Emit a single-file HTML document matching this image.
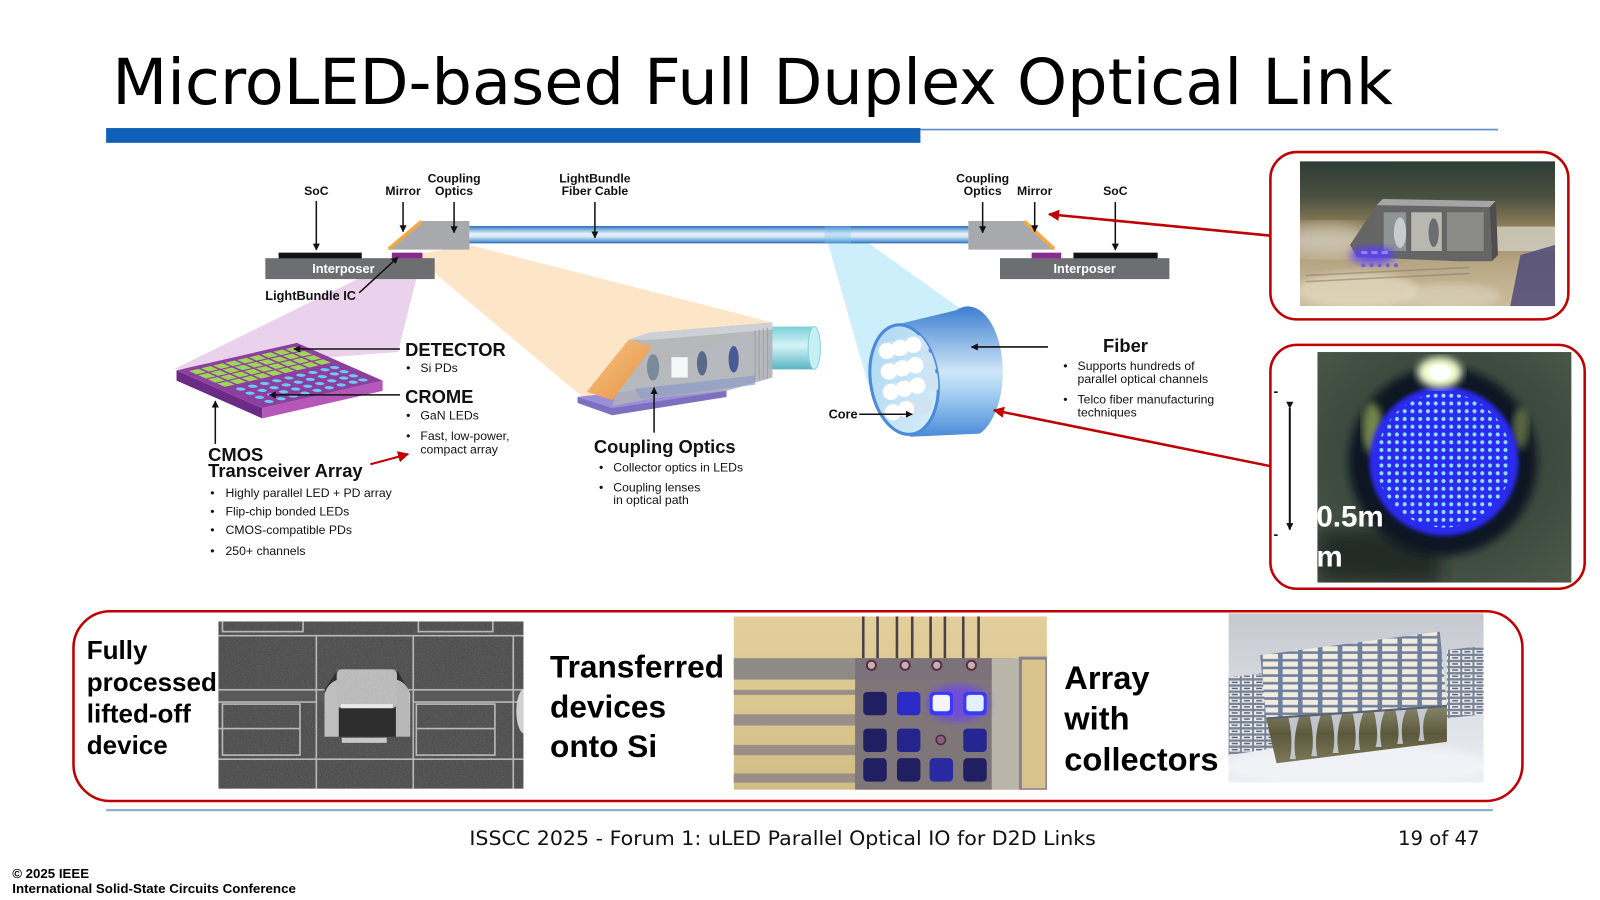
<!DOCTYPE html>
<html><head><meta charset="utf-8">
<style>html,body{margin:0;padding:0;background:#fff;overflow:hidden}svg{display:block}</style>
</head><body>
<svg xmlns="http://www.w3.org/2000/svg" xmlns:xlink="http://www.w3.org/1999/xlink" width="1600" height="900" viewBox="0 0 1568 882" font-family="'Liberation Sans', Arial, sans-serif">
<defs>
  <marker id="ab" viewBox="0 0 10 10" refX="9" refY="5" markerWidth="7" markerHeight="7" markerUnits="userSpaceOnUse" orient="auto"><path d="M0,0L10,5L0,10z" fill="#111"/></marker>
  <marker id="ar" viewBox="0 0 10 10" refX="9" refY="5" markerWidth="11" markerHeight="11" markerUnits="userSpaceOnUse" orient="auto"><path d="M0,0L10,5L0,10z" fill="#c00000"/></marker>
  <linearGradient id="fib" x1="0" y1="0" x2="0" y2="1">
    <stop offset="0" stop-color="#2a6ab5"/><stop offset="0.2" stop-color="#7fb0df"/><stop offset="0.45" stop-color="#eaf4fc"/><stop offset="0.62" stop-color="#d2e7f7"/><stop offset="0.85" stop-color="#6fa5dc"/><stop offset="1" stop-color="#2a6ab5"/>
  </linearGradient>
  <linearGradient id="body" x1="0" y1="0" x2="0" y2="1">
    <stop offset="0" stop-color="#3d7fd0"/><stop offset="0.5" stop-color="#cfe6f8"/><stop offset="0.7" stop-color="#9ccaf0"/><stop offset="1" stop-color="#4a8ad8"/>
  </linearGradient>
  <linearGradient id="face" x1="0" y1="0" x2="1" y2="1">
    <stop offset="0" stop-color="#a9d6f2"/><stop offset="1" stop-color="#d9effa"/>
  </linearGradient>
  <linearGradient id="cyl" x1="0" y1="0" x2="0" y2="1">
    <stop offset="0" stop-color="#7ccfd9"/><stop offset="0.45" stop-color="#d4f4f7"/><stop offset="1" stop-color="#5ab4c4"/>
  </linearGradient>
  <linearGradient id="orng" x1="0" y1="0" x2="1" y2="1">
    <stop offset="0" stop-color="#f6c48a"/><stop offset="1" stop-color="#e8923e"/>
  </linearGradient>
  <linearGradient id="p1bg" x1="0" y1="0" x2="0" y2="1">
    <stop offset="0" stop-color="#2e3d35"/><stop offset="0.25" stop-color="#4a5040"/><stop offset="0.45" stop-color="#8f7f58"/><stop offset="0.7" stop-color="#b7a684"/><stop offset="1" stop-color="#cbbd9c"/>
  </linearGradient>
  <radialGradient id="p2bg" cx="0.5" cy="0.45" r="0.75">
    <stop offset="0" stop-color="#2a3530"/><stop offset="0.6" stop-color="#3e4c40"/><stop offset="1" stop-color="#4d5a4a"/>
  </radialGradient>
  <linearGradient id="p3bg" x1="0" y1="0" x2="0" y2="1">
    <stop offset="0" stop-color="#e3cf9c"/><stop offset="1" stop-color="#d2bd84"/>
  </linearGradient>
  <linearGradient id="p4bg" x1="0" y1="0" x2="0" y2="1">
    <stop offset="0" stop-color="#c5c9cf"/><stop offset="0.6" stop-color="#dde0e6"/><stop offset="1" stop-color="#eceef2"/>
  </linearGradient>
  <linearGradient id="olive" x1="0" y1="0" x2="0" y2="1">
    <stop offset="0" stop-color="#8a8a70"/><stop offset="0.5" stop-color="#5c583c"/><stop offset="1" stop-color="#7c7858"/>
  </linearGradient>
  <pattern id="dots" patternUnits="userSpaceOnUse" width="7.6" height="7.6" x="1350" y="384">
    <circle cx="3.8" cy="3.8" r="2" fill="#8fe2ff"/>
  </pattern>
  <pattern id="cells" patternUnits="userSpaceOnUse" width="19.5" height="7.5" x="1235" y="617">
    <rect width="19.5" height="7.5" fill="#6f7fa0"/>
    <rect x="2.5" y="1.3" width="15" height="5" fill="#f1ecdc"/>
  </pattern>
  <pattern id="wing" patternUnits="userSpaceOnUse" width="12" height="6" x="1204" y="660">
    <rect width="12" height="6" fill="#7b8496"/>
    <rect x="1" y="1" width="10" height="3.6" fill="#eef0f2"/>
    <rect x="3" y="2" width="6" height="1.4" fill="#55606e"/>
  </pattern>
  <filter id="noise" x="0" y="0" width="1" height="1">
    <feTurbulence type="fractalNoise" baseFrequency="0.8" numOctaves="2" seed="3"/>
    <feColorMatrix type="saturate" values="0"/>
  </filter>
  <filter id="b2"><feGaussianBlur stdDeviation="2"/></filter>
  <filter id="b4"><feGaussianBlur stdDeviation="4"/></filter>
  <filter id="b8"><feGaussianBlur stdDeviation="8"/></filter>
  <clipPath id="c1"><rect x="1274" y="158" width="250" height="142"/></clipPath>
  <clipPath id="c2"><rect x="1291" y="345" width="249" height="226"/></clipPath>
  <clipPath id="c3"><rect x="214" y="609" width="299" height="164"/></clipPath>
  <clipPath id="c4"><rect x="719" y="604" width="307" height="170"/></clipPath>
  <clipPath id="c5"><rect x="1204" y="601" width="250" height="166"/></clipPath>
  <clipPath id="cface"><ellipse cx="886" cy="372" rx="33" ry="54" transform="rotate(-8 886 372)"/></clipPath>
  <g id="grow" fill="#9fd35a">
    <rect x="0.06" y="0" width="0.08" height="0.09"/><rect x="0.16" y="0" width="0.08" height="0.09"/><rect x="0.26" y="0" width="0.08" height="0.09"/><rect x="0.36" y="0" width="0.08" height="0.09"/><rect x="0.46" y="0" width="0.08" height="0.09"/><rect x="0.56" y="0" width="0.08" height="0.09"/><rect x="0.66" y="0" width="0.08" height="0.09"/><rect x="0.76" y="0" width="0.08" height="0.09"/><rect x="0.86" y="0" width="0.08" height="0.09"/>
  </g>
  <g id="brow" fill="#6cc8f4">
    <ellipse cx="0.12" cy="0" rx="0.03" ry="0.035"/><ellipse cx="0.22" cy="0" rx="0.03" ry="0.035"/><ellipse cx="0.32" cy="0" rx="0.03" ry="0.035"/><ellipse cx="0.42" cy="0" rx="0.03" ry="0.035"/><ellipse cx="0.52" cy="0" rx="0.03" ry="0.035"/><ellipse cx="0.62" cy="0" rx="0.03" ry="0.035"/><ellipse cx="0.72" cy="0" rx="0.03" ry="0.035"/><ellipse cx="0.82" cy="0" rx="0.03" ry="0.035"/><ellipse cx="0.9" cy="0" rx="0.03" ry="0.035"/>
  </g>
</defs>

<rect width="1568" height="882" fill="#fff"/>

<!-- Title -->
<text x="110" y="102" font-family="'DejaVu Sans', Verdana, sans-serif" font-size="62" textLength="1255" lengthAdjust="spacingAndGlyphs" fill="#000">MicroLED-based Full Duplex Optical Link</text>
<rect x="104" y="125.5" width="798" height="14.5" fill="#1060b8"/>
<line x1="902" y1="127" x2="1468" y2="127" stroke="#5b8ec4" stroke-width="1.6"/>

<!-- Cones -->
<polygon points="392,253 413,253 390,345 170,362" fill="#ead2ec"/>
<polygon points="405,250 460,240 757,316 572,390" fill="#fde5c8"/>
<polygon points="808,226 834,226 946,306 878,318 851,378" fill="#cdeefb"/>

<!-- Left assembly -->
<rect x="260" y="253" width="166" height="20.5" fill="#6d6e71"/>
<text x="336.5" y="267.5" font-size="12.5" font-weight="bold" fill="#fff" text-anchor="middle">Interposer</text>
<rect x="273" y="247.6" width="81.5" height="5.6" fill="#111"/>
<rect x="384" y="247.6" width="30" height="5.6" fill="#8a2a8e"/>
<polygon points="380,244.6 413,216.6 460,216.6 460,244.6" fill="#a7a9ac"/>
<line x1="381" y1="244" x2="413" y2="217" stroke="#f4a742" stroke-width="3.5"/>

<!-- Fiber -->
<rect x="460" y="221.5" width="489" height="17" fill="url(#fib)"/>
<rect x="808" y="221.5" width="26" height="17" fill="#7fc6ea" opacity="0.35"/>

<!-- Right assembly -->
<rect x="980" y="253" width="166" height="20.5" fill="#6d6e71"/>
<text x="1063" y="267.5" font-size="12.5" font-weight="bold" fill="#fff" text-anchor="middle">Interposer</text>
<rect x="1052" y="247.6" width="82.5" height="5.6" fill="#111"/>
<rect x="1011" y="247.6" width="29" height="5.6" fill="#8a2a8e"/>
<polygon points="949,216.6 1004,216.6 1034,244.6 949,244.6" fill="#a7a9ac"/>
<line x1="1004" y1="217" x2="1033" y2="244" stroke="#f4a742" stroke-width="3.5"/>

<!-- Top labels -->
<g font-size="12" font-weight="bold" fill="#111" text-anchor="middle">
  <text x="310" y="191">SoC</text>
  <text x="395" y="191">Mirror</text>
  <text x="445" y="179">Coupling</text><text x="445" y="191">Optics</text>
  <text x="583" y="179">LightBundle</text><text x="583" y="191">Fiber Cable</text>
  <text x="963" y="179">Coupling</text><text x="963" y="191">Optics</text>
  <text x="1014" y="191">Mirror</text>
  <text x="1093" y="191">SoC</text>
</g>
<text x="260" y="294" font-size="12.5" font-weight="bold" fill="#111">LightBundle IC</text>

<g stroke="#111" stroke-width="1.5" fill="none" marker-end="url(#ab)">
  <line x1="310" y1="197" x2="310" y2="245"/>
  <line x1="395" y1="198" x2="395" y2="227"/>
  <line x1="445" y1="198" x2="445" y2="228"/>
  <line x1="583" y1="198" x2="583" y2="233"/>
  <line x1="963" y1="198" x2="963" y2="228"/>
  <line x1="1014" y1="198" x2="1014" y2="227"/>
  <line x1="1093" y1="198" x2="1093" y2="245"/>
  <line x1="352" y1="287" x2="390" y2="252"/>
</g>

<!-- Chip -->
<polygon points="173,363 257,400 257,410 173,373" fill="#6b2a86"/>
<polygon points="257,400 375,373 375,383 257,410" fill="#b457b8"/>
<g transform="matrix(118,-27,84,37,173,363)">
  <rect x="0" y="0" width="1" height="1" fill="#8d3f9f"/>
  <use xlink:href="#grow" y="0.06"/>
  <use xlink:href="#grow" y="0.17"/>
  <use xlink:href="#grow" y="0.28"/>
  <use xlink:href="#grow" y="0.39"/>
  <use xlink:href="#brow" y="0.58"/>
  <use xlink:href="#brow" y="0.69"/>
  <use xlink:href="#brow" y="0.80"/>
  <use xlink:href="#brow" y="0.91"/>
</g>

<g stroke="#111" stroke-width="1.5" fill="none" marker-end="url(#ab)">
  <line x1="392" y1="342" x2="288" y2="342"/>
  <line x1="392" y1="387" x2="264" y2="387"/>
  <line x1="211" y1="435" x2="211" y2="393"/>
</g>
<line x1="363" y1="455" x2="400" y2="445" stroke="#c00000" stroke-width="2" marker-end="url(#ar)"/>

<g fill="#111">
  <text x="397" y="349" font-size="18" font-weight="bold">DETECTOR</text>
  <text x="397" y="395" font-size="18" font-weight="bold">CROME</text>
  <text x="204" y="452" font-size="18" font-weight="bold">CMOS</text>
  <text x="204" y="467.5" font-size="18" font-weight="bold">Transceiver Array</text>
  <g font-size="12">
    <text x="398" y="364.5">•</text><text x="412" y="364.5">Si PDs</text>
    <text x="398" y="411">•</text><text x="412" y="411">GaN LEDs</text>
    <text x="398" y="431">•</text><text x="412" y="431">Fast, low-power,</text>
    <text x="412" y="444.5">compact array</text>
    <text x="206" y="487">•</text><text x="221" y="487">Highly parallel LED + PD array</text>
    <text x="206" y="505">•</text><text x="221" y="505">Flip-chip bonded LEDs</text>
    <text x="206" y="523.5">•</text><text x="221" y="523.5">CMOS-compatible PDs</text>
    <text x="206" y="544">•</text><text x="221" y="544">250+ channels</text>
  </g>
</g>

<!-- Coupling optics 3D -->
<polygon points="566,389 680,376 712,383 712,389 600,407 566,395" fill="#7e70c0"/>
<polygon points="566,389 680,376 712,383 600,400" fill="#9a8fd8"/>
<rect x="752" y="320" width="46" height="42" fill="url(#cyl)"/>
<ellipse cx="798" cy="341" rx="6" ry="21" fill="#c6f0f4" stroke="#8fd0da" stroke-width="1"/>
<polygon points="616,333 636,326 757,316 757,370 712,383 640,390 600,398" fill="#aeb3b8" opacity="0.9"/>
<polygon points="616,333 636,326 757,316 757,323 640,333" fill="#cdd1d5"/>
<g stroke="#9aa0a6" stroke-width="1">
  <line x1="740" y1="324" x2="740" y2="372"/><line x1="744" y1="323" x2="744" y2="372"/><line x1="748" y1="322" x2="748" y2="371"/><line x1="752" y1="321" x2="752" y2="371"/>
</g>
<rect x="658" y="350" width="16" height="20" fill="#f4f6f8"/>
<ellipse cx="640" cy="360" rx="6" ry="13" fill="#7a8a9a"/>
<ellipse cx="688" cy="356" rx="5" ry="12" fill="#5a6a8a"/>
<ellipse cx="719" cy="352" rx="5" ry="13" fill="#4a5a96"/>
<polygon points="622,381 740,368 740,377 628,391" fill="#8f9cc8" opacity="0.7"/>
<polygon points="575,384 616,333 639,340 600,392" fill="url(#orng)"/>
<line x1="641" y1="424" x2="641" y2="380" stroke="#111" stroke-width="1.5" marker-end="url(#ab)"/>
<text x="582" y="444" font-size="18" font-weight="bold" fill="#111">Coupling Optics</text>
<g font-size="12" fill="#111">
  <text x="587" y="462">•</text><text x="601" y="462">Collector optics in LEDs</text>
  <text x="587" y="481.5">•</text><text x="601" y="481.5">Coupling lenses</text>
  <text x="601" y="494">in optical path</text>
</g>

<!-- Fiber bundle -->
<path d="M879,318 L937,304 A32,60 0 0 1 960,425 L892,428 Z" fill="url(#body)"/>
<ellipse cx="886" cy="372" rx="33" ry="54" transform="rotate(-8 886 372)" fill="url(#face)" stroke="#4a8ad8" stroke-width="3"/>
<g clip-path="url(#cface)">
  <g fill="#cfe3f3">
    <circle cx="873" cy="343" r="8.5"/><circle cx="886" cy="340" r="8.5"/><circle cx="899" cy="337" r="8.5"/><circle cx="912" cy="334" r="8.5"/>
    <circle cx="875" cy="363" r="8.5"/><circle cx="888" cy="360" r="8.5"/><circle cx="901" cy="357" r="8.5"/><circle cx="914" cy="354" r="8.5"/>
    <circle cx="877" cy="383" r="8.5"/><circle cx="890" cy="380" r="8.5"/><circle cx="903" cy="377" r="8.5"/><circle cx="916" cy="374" r="8.5"/>
    <circle cx="879" cy="403" r="8.5"/><circle cx="892" cy="400" r="8.5"/><circle cx="905" cy="397" r="8.5"/>
  </g>
  <g fill="#ffffff">
    <circle cx="869" cy="344" r="8"/><circle cx="882" cy="341" r="8"/><circle cx="895" cy="338" r="8"/>
    <circle cx="871" cy="364" r="8"/><circle cx="884" cy="361" r="8"/><circle cx="897" cy="358" r="8"/>
    <circle cx="873" cy="384" r="8"/><circle cx="886" cy="381" r="8"/><circle cx="899" cy="378" r="8"/>
    <circle cx="875" cy="404" r="8"/><circle cx="888" cy="401" r="8"/>
  </g>
</g>
<text x="812" y="410" font-size="12.5" font-weight="bold" fill="#111">Core</text>
<g stroke="#111" stroke-width="1.5" fill="none" marker-end="url(#ab)">
  <line x1="842" y1="406" x2="894" y2="406"/>
  <line x1="1027" y1="340" x2="952" y2="340"/>
</g>
<text x="1081" y="345" font-size="18" font-weight="bold" fill="#111">Fiber</text>
<g font-size="12" fill="#111">
  <text x="1042" y="362.5">•</text><text x="1056" y="362.5">Supports hundreds of</text>
  <text x="1056" y="375.5">parallel optical channels</text>
  <text x="1042" y="395.5">•</text><text x="1056" y="395.5">Telco fiber manufacturing</text>
  <text x="1056" y="408">techniques</text>
</g>

<!-- Red arrows to photos -->
<line x1="1246" y1="231" x2="1028" y2="210" stroke="#c00000" stroke-width="2.5" marker-end="url(#ar)"/>
<line x1="1246" y1="457" x2="974" y2="402" stroke="#c00000" stroke-width="2.5" marker-end="url(#ar)"/>

<!-- Photo 1 -->
<rect x="1245" y="149" width="292" height="164" rx="26" fill="#fff" stroke="#c00000" stroke-width="2.5"/>
<g clip-path="url(#c1)">
  <rect x="1274" y="158" width="250" height="142" fill="url(#p1bg)"/>
  <ellipse cx="1300" cy="235" rx="45" ry="16" fill="#e8e4dc" opacity="0.6" filter="url(#b8)"/>
  <ellipse cx="1330" cy="285" rx="60" ry="18" fill="#e6dcc4" opacity="0.7" filter="url(#b4)"/>
  <ellipse cx="1420" cy="290" rx="50" ry="12" fill="#ddd6c4" opacity="0.6" filter="url(#b4)"/>
  <g stroke="#8a8070" stroke-width="1.5" opacity="0.6">
    <line x1="1280" y1="270" x2="1440" y2="262"/><line x1="1280" y1="276" x2="1440" y2="268"/>
  </g>
  <rect x="1458" y="222" width="66" height="24" fill="#cfcbbf" opacity="0.85"/>
  <polygon points="1323,240 1349,201 1460,203 1462,256 1430,256 1330,252" fill="#656565"/>
  <polygon points="1349,201 1355,195 1466,197 1460,203" fill="#a5a5a5"/>
  <polygon points="1460,203 1466,197 1468,250 1462,256" fill="#4e4e4e"/>
  <rect x="1356" y="208" width="22" height="38" fill="#8e9494"/>
  <rect x="1383" y="208" width="30" height="38" fill="#b8b8b0"/>
  <rect x="1418" y="208" width="36" height="38" fill="#8a8a86"/>
  <ellipse cx="1372" cy="228" rx="6" ry="15" fill="#c8ccd0"/>
  <ellipse cx="1405" cy="228" rx="5" ry="14" fill="#6a6e72"/>
  <ellipse cx="1345" cy="250" rx="22" ry="9" fill="#5a3cff" opacity="0.8" filter="url(#b4)"/>
  <g fill="#9a80ff"><rect x="1334" y="246" width="6" height="3"/><rect x="1344" y="246" width="6" height="3"/><rect x="1354" y="246" width="6" height="3"/></g>
  <g fill="#7060e0"><circle cx="1336" cy="260" r="2"/><circle cx="1344" cy="260" r="2"/><circle cx="1352" cy="260" r="2"/><circle cx="1360" cy="260" r="2"/><circle cx="1368" cy="260" r="2"/></g>
  <polygon points="1490,250 1524,240 1524,300 1480,300" fill="#54507a" opacity="0.9"/>
</g>

<!-- Photo 2 -->
<rect x="1245" y="338" width="308" height="239" rx="26" fill="#fff" stroke="#c00000" stroke-width="2.5"/>
<g clip-path="url(#c2)">
  <rect x="1291" y="345" width="249" height="226" fill="url(#p2bg)"/>
  <rect x="1291" y="520" width="120" height="51" fill="#141a1a" opacity="0.7" filter="url(#b8)"/>
  <circle cx="1414" cy="452" r="92" fill="#0b1220" filter="url(#b4)"/>
  <ellipse cx="1345" cy="420" rx="10" ry="25" fill="#c8e070" opacity="0.55" filter="url(#b4)"/>
  <ellipse cx="1490" cy="420" rx="8" ry="20" fill="#c8e070" opacity="0.4" filter="url(#b4)"/>
  <circle cx="1415" cy="452" r="73" fill="#2b2cf2" filter="url(#b2)"/>
  <circle cx="1415" cy="451" r="66" fill="url(#dots)"/>
  <ellipse cx="1411" cy="365" rx="22" ry="15" fill="#f4ffd0" filter="url(#b4)"/>
  <ellipse cx="1411" cy="365" rx="11" ry="8" fill="#ffffff"/>
</g>
<line x1="1264" y1="400" x2="1264" y2="519" stroke="#111" stroke-width="2" marker-start="url(#ab)" marker-end="url(#ab)"/>
<text x="1248" y="388" font-size="14" font-weight="bold" fill="#111">-</text>
<text x="1248" y="528" font-size="14" font-weight="bold" fill="#111">-</text>
<text x="1290" y="516" font-size="29" font-weight="bold" fill="#fff">0.5m</text>
<text x="1290" y="555" font-size="29" font-weight="bold" fill="#fff">m</text>

<!-- Bottom box -->
<rect x="72" y="599" width="1420" height="186" rx="36" fill="#fff" stroke="#c00000" stroke-width="2.5"/>

<!-- SEM photo -->
<g clip-path="url(#c3)">
  <rect x="214" y="609" width="299" height="164" fill="#474747"/>
  <rect x="214" y="609" width="299" height="164" filter="url(#noise)" opacity="0.22"/>
  <rect x="214" y="674" width="299" height="14" fill="#5a5a5a"/>
  <g fill="none" stroke="#b8b8b8" stroke-width="1.6">
    <rect x="218" y="605" width="79" height="14"/>
    <rect x="410" y="605" width="73" height="14"/>
    <line x1="214" y1="623" x2="513" y2="623"/>
    <line x1="310" y1="623" x2="310" y2="773"/>
    <line x1="405" y1="623" x2="405" y2="773"/>
    <line x1="214" y1="676" x2="513" y2="676"/>
    <line x1="214" y1="688" x2="310" y2="688"/>
    <line x1="405" y1="688" x2="513" y2="688"/>
    <rect x="218" y="690" width="76" height="50"/>
    <rect x="408" y="690" width="77" height="50"/>
    <line x1="214" y1="714" x2="294" y2="714"/>
    <line x1="408" y1="714" x2="485" y2="714"/>
    <line x1="214" y1="744" x2="513" y2="744"/>
    <line x1="503" y1="623" x2="503" y2="773"/>
  </g>
  <polygon points="318,676 330,658 390,658 400,676 402,722 318,722" fill="#2e2e2e"/>
  <path d="M318,722 L318,680 Q322,668 332,666 L332,722 Z" fill="#d8d8d8" opacity="0.85"/>
  <path d="M402,722 L402,680 Q398,668 388,666 L388,722 Z" fill="#d0d0d0" opacity="0.85"/>
  <rect x="330" y="656" width="59" height="38" rx="5" fill="#bcbcbc"/>
  <rect x="330" y="656" width="59" height="38" rx="5" filter="url(#noise)" opacity="0.35"/>
  <rect x="334" y="690" width="51" height="4" fill="#e8e8e8"/>
  <rect x="335" y="723" width="44" height="5" fill="#c8c8c8"/>
  <ellipse cx="514" cy="697" rx="8" ry="22" fill="#d0d0d0"/>
</g>

<!-- Transferred photo -->
<g clip-path="url(#c4)">
  <rect x="719" y="604" width="307" height="170" fill="url(#p3bg)"/>
  <rect x="719" y="645" width="273" height="21" fill="#8e8a86"/>
  <g fill="#9a8e88">
    <rect x="719" y="676" width="120" height="5"/>
    <rect x="719" y="700" width="120" height="11"/>
    <rect x="719" y="730" width="120" height="10"/>
    <rect x="719" y="758" width="120" height="9"/>
  </g>
  <rect x="838" y="645" width="134" height="129" fill="#7a7278" opacity="0.95"/>
  <rect x="972" y="645" width="28" height="129" fill="#b9b5ab"/>
  <rect x="1000" y="645" width="26" height="129" fill="#d8c48c" stroke="#8a8092" stroke-width="3"/>
  <g stroke="#4a4048" stroke-width="2.5">
    <line x1="846" y1="604" x2="846" y2="645"/><line x1="860" y1="604" x2="860" y2="645"/>
    <line x1="879" y1="604" x2="879" y2="645"/><line x1="894" y1="604" x2="894" y2="645"/>
    <line x1="912" y1="604" x2="912" y2="645"/><line x1="926" y1="604" x2="926" y2="645"/>
    <line x1="944" y1="604" x2="944" y2="645"/><line x1="959" y1="604" x2="959" y2="645"/>
  </g>
  <g fill="#c6b0b8" stroke="#5a3040" stroke-width="2">
    <circle cx="854" cy="652" r="4.5"/><circle cx="887" cy="652" r="4.5"/><circle cx="918" cy="652" r="4.5"/><circle cx="952" cy="652" r="4.5"/>
  </g>
  <g fill="#1f1f62">
    <rect x="846" y="678" width="23" height="23" rx="4"/>
    <rect x="846" y="714" width="23" height="23" rx="4"/>
    <rect x="879" y="714" width="23" height="23" rx="4" fill="#24248a"/>
    <rect x="944" y="714" width="23" height="23" rx="4" fill="#262690"/>
    <rect x="846" y="743" width="23" height="23" rx="4"/>
    <rect x="879" y="743" width="23" height="23" rx="4"/>
    <rect x="911" y="743" width="23" height="23" rx="4" fill="#2a2aa0"/>
    <rect x="944" y="743" width="23" height="23" rx="4"/>
  </g>
  <rect x="879" y="678" width="23" height="23" rx="4" fill="#2a2ac8"/>
  <ellipse cx="939" cy="689" rx="30" ry="18" fill="#6a3cff" opacity="0.7" filter="url(#b4)"/>
  <rect x="911" y="678" width="23" height="23" rx="4" fill="#3a3aff"/>
  <rect x="944" y="678" width="23" height="23" rx="4" fill="#3a3aff"/>
  <rect x="914" y="681" width="17" height="16" rx="3" fill="#f4f4ff"/>
  <rect x="947" y="681" width="17" height="16" rx="3" fill="#e4f0ff"/>
  <circle cx="922" cy="725" r="4.5" fill="#8a6080" stroke="#4a2a40" stroke-width="1.5"/>
</g>

<!-- Array photo -->
<g clip-path="url(#c5)">
  <rect x="1204" y="601" width="250" height="166" fill="url(#p4bg)"/>
  <ellipse cx="1330" cy="750" rx="130" ry="22" fill="#f2f4f8" opacity="0.8" filter="url(#b4)"/>
  <polygon points="1204,664 1251,658 1251,733 1204,740" fill="url(#wing)"/>
  <polygon points="1418,637 1454,633 1454,700 1418,704" fill="url(#wing)"/>
  <polygon points="1240,700 1418,690 1418,727 1251,748" fill="url(#olive)"/>
  <g fill="#cfd6e2" opacity="0.85">
    <path d="M1262,700 q6,25 2,44 l6,0 q-4,-20 4,-44z"/><path d="M1283,699 q6,25 2,42 l6,0 q-4,-20 4,-42z"/>
    <path d="M1304,698 q6,25 2,40 l6,0 q-4,-20 4,-40z"/><path d="M1325,696 q6,25 2,39 l6,0 q-4,-20 4,-39z"/>
    <path d="M1346,695 q6,25 2,37 l6,0 q-4,-20 4,-37z"/><path d="M1367,694 q6,25 2,35 l6,0 q-4,-20 4,-35z"/>
    <path d="M1388,693 q6,22 2,33 l6,0 q-4,-20 4,-33z"/>
  </g>
  <polygon points="1235,642 1411,619 1418,692 1241,704" fill="url(#cells)"/>
  <line x1="1241" y1="704" x2="1418" y2="692" stroke="#5a6070" stroke-width="2"/>
</g>

<!-- Bottom texts -->
<g font-weight="bold" fill="#000">
  <text font-size="25.5" x="85" y="646">Fully</text>
  <text font-size="25.5" x="85" y="677">processed</text>
  <text font-size="25.5" x="85" y="708">lifted-off</text>
  <text font-size="25.5" x="85" y="739">device</text>
  <text font-size="31" x="539" y="664">Transferred</text>
  <text font-size="31" x="539" y="703">devices</text>
  <text font-size="31" x="539" y="742">onto Si</text>
  <text font-size="32" x="1043" y="675">Array</text>
  <text font-size="32" x="1043" y="715">with</text>
  <text font-size="32" x="1043" y="755">collectors</text>
</g>

<!-- Footer -->
<line x1="104" y1="794" x2="1463" y2="794" stroke="#8aa9cc" stroke-width="2"/>
<text x="460" y="828" font-family="'DejaVu Sans', Verdana, sans-serif" font-size="19" textLength="614" lengthAdjust="spacingAndGlyphs" fill="#111">ISSCC 2025 - Forum 1: uLED Parallel Optical IO for D2D Links</text>
<text x="1370" y="828" font-family="'DejaVu Sans', Verdana, sans-serif" font-size="19" textLength="80" lengthAdjust="spacingAndGlyphs" fill="#111">19 of 47</text>
<text x="12" y="860.5" font-size="13" font-weight="bold" fill="#000">© 2025 IEEE</text>
<text x="12" y="875" font-size="13" font-weight="bold" fill="#000" textLength="278" lengthAdjust="spacingAndGlyphs">International Solid-State Circuits Conference</text>
</svg>
</body></html>
